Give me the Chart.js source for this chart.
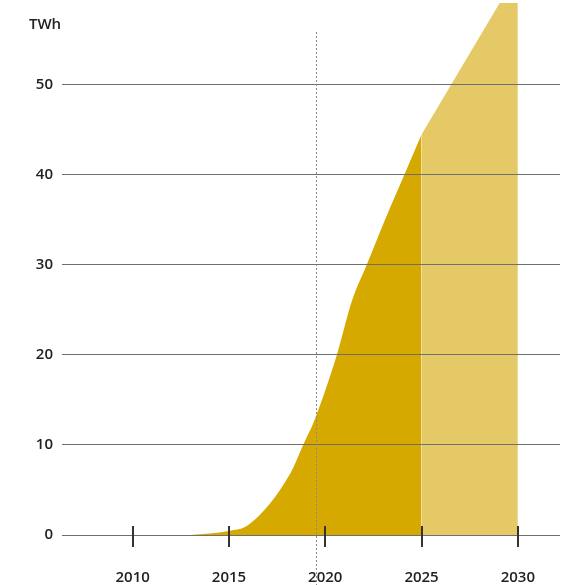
<!DOCTYPE html>
<html>
<head>
<meta charset="utf-8">
<script src="https://cdn.jsdelivr.net/npm/chart.js@4.4.1/dist/chart.umd.min.js"></script>
<style>
  html, body { margin: 0; padding: 0; background: #fff; }
  #wrap { width: 573px; height: 585px; }
</style>
</head>
<body>
<div id="wrap"><canvas id="energyChart" width="573" height="585"></canvas></div>
<script>
// data
const darkYears  = [2013, 2015, 2016, 2018.2, 2018.85, 2019.45, 2020.6, 2021.4, 2022.15, 2023.1, 2024.1, 2025];
const darkValues = [0, 0.45, 1.1, 6.9, 10, 12.8, 20, 26.1, 30, 35, 40, 44.5];
const lightYears  = [2025, 2030];
const lightValues = [44.5, 62.5];
const xTicks = [2010, 2015, 2020, 2025, 2030];
const yTicks = [0, 10, 20, 30, 40, 50];
const markerYear = 2019.5;
const unitLabel = 'TWh';

const fontFamily = '"Open Sans", "DejaVu Sans", sans-serif';

function toPoints(xs, ys) {
    return xs.map(function(x, i) { return { x: x, y: ys[i] }; });
}

// grid lines sit on top of the filled areas, plus tick marks and the dashed marker
const overlay = {
    id: 'overlay',
    afterDatasetsDraw: function(chart) {
        const ctx = chart.ctx;
        const xs = chart.scales.x;
        const ys = chart.scales.y;
        const area = chart.chartArea;

        ys.drawGrid(area);

        ctx.save();
        ctx.strokeStyle = '#333';
        ctx.lineWidth = 2;
        xs.ticks.forEach(function(t) {
            const px = Math.round(xs.getPixelForValue(t.value));
            ctx.beginPath();
            ctx.moveTo(px, area.bottom - 9);
            ctx.lineTo(px, area.bottom + 12);
            ctx.stroke();
        });

        const mx = Math.round(xs.getPixelForValue(markerYear)) + 0.5;
        ctx.strokeStyle = '#8a8a8a';
        ctx.lineWidth = 1;
        ctx.setLineDash([2, 2]);
        ctx.beginPath();
        ctx.moveTo(mx, 32);
        ctx.lineTo(mx, chart.height);
        ctx.stroke();
        ctx.setLineDash([]);

        ctx.fillStyle = '#222';
        ctx.font = '600 15px ' + fontFamily;
        ctx.textAlign = 'center';
        ctx.textBaseline = 'middle';
        ctx.fillText(unitLabel, 45, 25);
        ctx.restore();
    }
};

new Chart(document.getElementById('energyChart').getContext('2d'), {
    type: 'line',
    data: {
        datasets: [
            {
                label: 'outlook',
                data: toPoints(lightYears, lightValues),
                backgroundColor: '#e5c967',
                borderWidth: 0,
                pointRadius: 0,
                fill: 'origin',
                tension: 0
            },
            {
                label: 'actual',
                data: toPoints(darkYears, darkValues),
                backgroundColor: '#d5a900',
                borderWidth: 0,
                pointRadius: 0,
                fill: 'origin',
                cubicInterpolationMode: 'monotone'
            }
        ]
    },
    options: {
        responsive: false,
        animation: false,
        layout: { padding: { top: 3, right: 13, left: 0, bottom: 0 } },
        plugins: {
            legend: { display: false },
            tooltip: { enabled: false }
        },
        scales: {
            x: {
                type: 'linear',
                min: 2006.33,
                max: 2032.19,
                afterBuildTicks: function(scale) {
                    scale.ticks = xTicks.map(function(v) { return { value: v }; });
                },
                afterFit: function(scale) {
                    scale.height = 50;
                    scale.paddingLeft = 0;
                    scale.paddingRight = 0;
                },
                grid: { display: false },
                border: { display: false },
                ticks: {
                    padding: 26,
                    color: '#222',
                    font: { family: fontFamily, size: 15, weight: '600' },
                    maxRotation: 0,
                    callback: function(v) { return String(v); }
                }
            },
            y: {
                min: 0,
                max: 59.1,
                afterBuildTicks: function(scale) {
                    scale.ticks = yTicks.map(function(v) { return { value: v }; });
                },
                afterFit: function(scale) {
                    scale.width = 62;
                    scale.paddingTop = 0;
                    scale.paddingBottom = 0;
                },
                grid: { color: '#6f6f6f', lineWidth: 1, drawTicks: false },
                border: { display: false },
                ticks: {
                    padding: 9,
                    color: '#222',
                    font: { family: fontFamily, size: 15, weight: '600' }
                }
            }
        }
    },
    plugins: [overlay]
});
</script>
</body>
</html>
